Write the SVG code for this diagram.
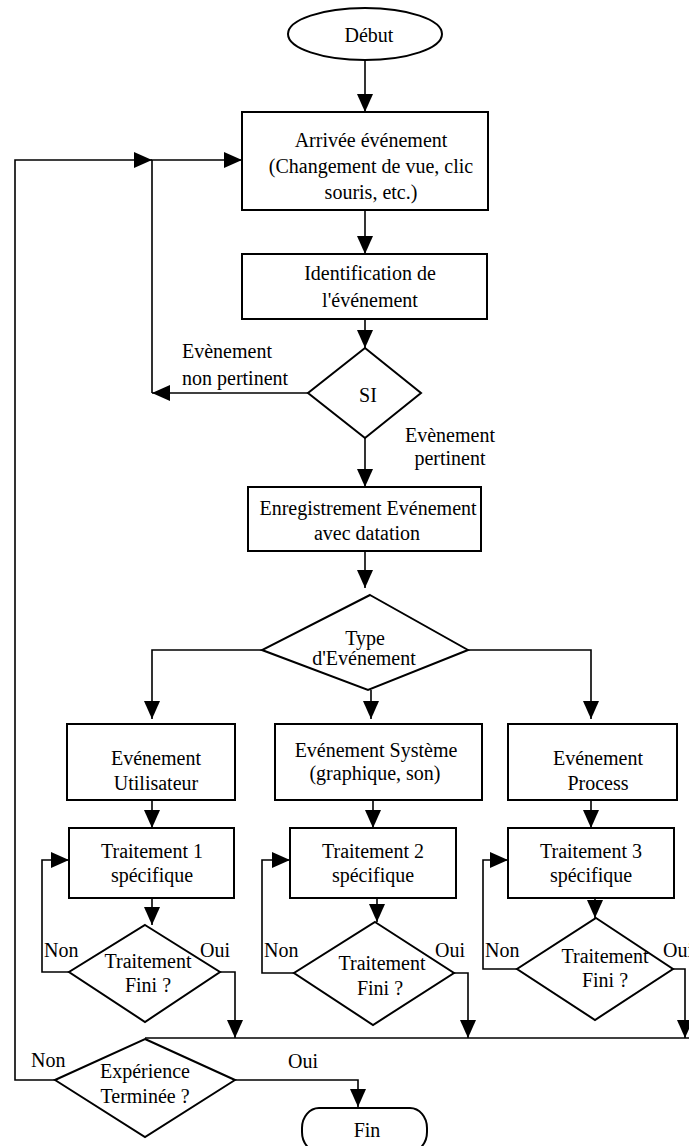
<svg xmlns="http://www.w3.org/2000/svg" width="689" height="1146" viewBox="0 0 689 1146">
<style>
  .shape { fill: #fff; stroke: #000; stroke-width: 2; }
  .line { fill: none; stroke: #000; stroke-width: 1.6; }
  text { font-family: "Liberation Serif", "Times New Roman", serif; font-size: 20px; fill: #000; }
  .c { text-anchor: middle; }
</style>
<defs>
  <marker id="ah" markerUnits="userSpaceOnUse" markerWidth="18" markerHeight="16" refX="18" refY="8" orient="auto" viewBox="0 0 18 16">
    <path d="M0,0 L18,8 L0,16 z" fill="#000"/>
  </marker>
</defs>
<rect width="689" height="1146" fill="#fff"/>

<g id="connectors">
  <path class="line" d="M365,60 L365,112" marker-end="url(#ah)"/>
  <path class="line" d="M365,210 L365,254" marker-end="url(#ah)"/>
  <path class="line" d="M365,319 L365,348" marker-end="url(#ah)"/>
  <path class="line" d="M308,393 L152,393" marker-end="url(#ah)"/>
  <path class="line" d="M152,393 L152,160 L242,160" marker-end="url(#ah)"/>
  <path class="line" d="M55,1080 L15,1080 L15,160 L152,160" marker-end="url(#ah)"/>
  <path class="line" d="M365,438 L365,487" marker-end="url(#ah)"/>
  <path class="line" d="M365,551 L365,588" marker-end="url(#ah)"/>
  <path class="line" d="M262,650 L152,650 L152,719" marker-end="url(#ah)"/>
  <path class="line" d="M371,690 L371,719" marker-end="url(#ah)"/>
  <path class="line" d="M468,650 L591,650 L591,719" marker-end="url(#ah)"/>
  <path class="line" d="M152,800 L152,828" marker-end="url(#ah)"/>
  <path class="line" d="M373,800 L373,828" marker-end="url(#ah)"/>
  <path class="line" d="M591,800 L591,828" marker-end="url(#ah)"/>
  <path class="line" d="M152,898 L152,925" marker-end="url(#ah)"/>
  <path class="line" d="M377,898 L377,922" marker-end="url(#ah)"/>
  <path class="line" d="M595,898 L595,918" marker-end="url(#ah)"/>
  <path class="line" d="M69,972 L42,972 L42,860 L69,860" marker-end="url(#ah)"/>
  <path class="line" d="M294,973 L262,973 L262,860 L290,860" marker-end="url(#ah)"/>
  <path class="line" d="M517,969 L483,969 L483,860 L508,860" marker-end="url(#ah)"/>
  <path class="line" d="M220,972 L235,972 L235,1038" marker-end="url(#ah)"/>
  <path class="line" d="M454,973 L468,973 L468,1038" marker-end="url(#ah)"/>
  <path class="line" d="M673,969 L685,969 L685,1038" marker-end="url(#ah)"/>
  <path class="line" d="M145,1038 L689,1038"/>
  <path class="line" d="M235,1080 L358,1080 L358,1107" marker-end="url(#ah)"/>
  <text x="182" y="358">Evènement</text>
  <text x="182" y="385">non pertinent</text>
  <text x="450" y="442" class="c">Evènement</text>
  <text x="450" y="465" class="c">pertinent</text>
  <text x="44" y="957">Non</text>
  <text x="200" y="957">Oui</text>
  <text x="264" y="957">Non</text>
  <text x="435" y="957">Oui</text>
  <text x="485" y="957">Non</text>
  <text x="663" y="957">Oui</text>
  <text x="31" y="1067">Non</text>
  <text x="288" y="1068">Oui</text>
</g>

<g id="debut">
  <ellipse class="shape" cx="365" cy="34" rx="77" ry="26"/>
  <text x="369" y="42" class="c">Début</text>
</g>
<g id="arrivee">
  <rect class="shape" x="242" y="112" width="246" height="98"/>
  <text x="371" y="147" class="c">Arrivée événement</text>
  <text x="371" y="173" class="c">(Changement de vue, clic</text>
  <text x="371" y="199" class="c">souris, etc.)</text>
</g>
<g id="identification">
  <rect class="shape" x="242" y="254" width="245" height="65"/>
  <text x="370" y="280" class="c">Identification de</text>
  <text x="370" y="307" class="c">l'événement</text>
</g>
<g id="si">
  <polygon class="shape" points="365,348 421,393 365,438 308,393"/>
  <text x="368" y="402" class="c">SI</text>
</g>
<g id="enregistrement">
  <rect class="shape" x="248" y="487" width="233" height="64"/>
  <text x="368" y="515" class="c">Enregistrement Evénement</text>
  <text x="367" y="540" class="c">avec datation</text>
</g>
<g id="type">
  <polygon class="shape" points="370,595 468,650 368,690 262,650" fill-opacity="0"/>
  <text x="365" y="645" class="c">Type</text>
  <text x="364" y="665" class="c">d'Evénement</text>
</g>
<g id="evt-utilisateur">
  <rect class="shape" x="67" y="724" width="168" height="76"/>
  <text x="156" y="765" class="c">Evénement</text>
  <text x="156" y="790" class="c">Utilisateur</text>
</g>
<g id="evt-systeme">
  <rect class="shape" x="275" y="724" width="207" height="76"/>
  <text x="376" y="757" class="c">Evénement Système</text>
  <text x="375" y="780" class="c">(graphique, son)</text>
</g>
<g id="evt-process">
  <rect class="shape" x="508" y="724" width="169" height="76"/>
  <text x="598" y="765" class="c">Evénement</text>
  <text x="598" y="790" class="c">Process</text>
</g>
<g id="traitement1">
  <rect class="shape" x="69" y="828" width="165" height="70"/>
  <text x="152" y="858" class="c">Traitement 1</text>
  <text x="152" y="882" class="c">spécifique</text>
</g>
<g id="traitement2">
  <rect class="shape" x="290" y="828" width="166" height="70"/>
  <text x="373" y="858" class="c">Traitement 2</text>
  <text x="373" y="882" class="c">spécifique</text>
</g>
<g id="traitement3">
  <rect class="shape" x="508" y="828" width="166" height="70"/>
  <text x="591" y="858" class="c">Traitement 3</text>
  <text x="591" y="882" class="c">spécifique</text>
</g>
<g id="fini1">
  <polygon class="shape" points="145,925 220,972 145,1022 69,972" fill-opacity="0"/>
  <text x="148" y="968" class="c">Traitement</text>
  <text x="148" y="992" class="c">Fini ?</text>
</g>
<g id="fini2">
  <polygon class="shape" points="375,922 454,973 373,1025 294,973" fill-opacity="0"/>
  <text x="382" y="970" class="c">Traitement</text>
  <text x="380" y="995" class="c">Fini ?</text>
</g>
<g id="fini3">
  <polygon class="shape" points="596,918 673,969 595,1020 517,969" fill-opacity="0"/>
  <text x="605" y="963" class="c">Traitement</text>
  <text x="605" y="987" class="c">Fini ?</text>
</g>
<g id="experience">
  <polygon class="shape" points="145,1039 235,1080 145,1137 55,1080"/>
  <text x="145" y="1078" class="c">Expérience</text>
  <text x="145" y="1103" class="c">Terminée ?</text>
</g>
<g id="fin">
  <rect class="shape" x="302" y="1108" width="125" height="44" rx="17" ry="20"/>
  <text x="367" y="1137" class="c">Fin</text>
</g>
</svg>
